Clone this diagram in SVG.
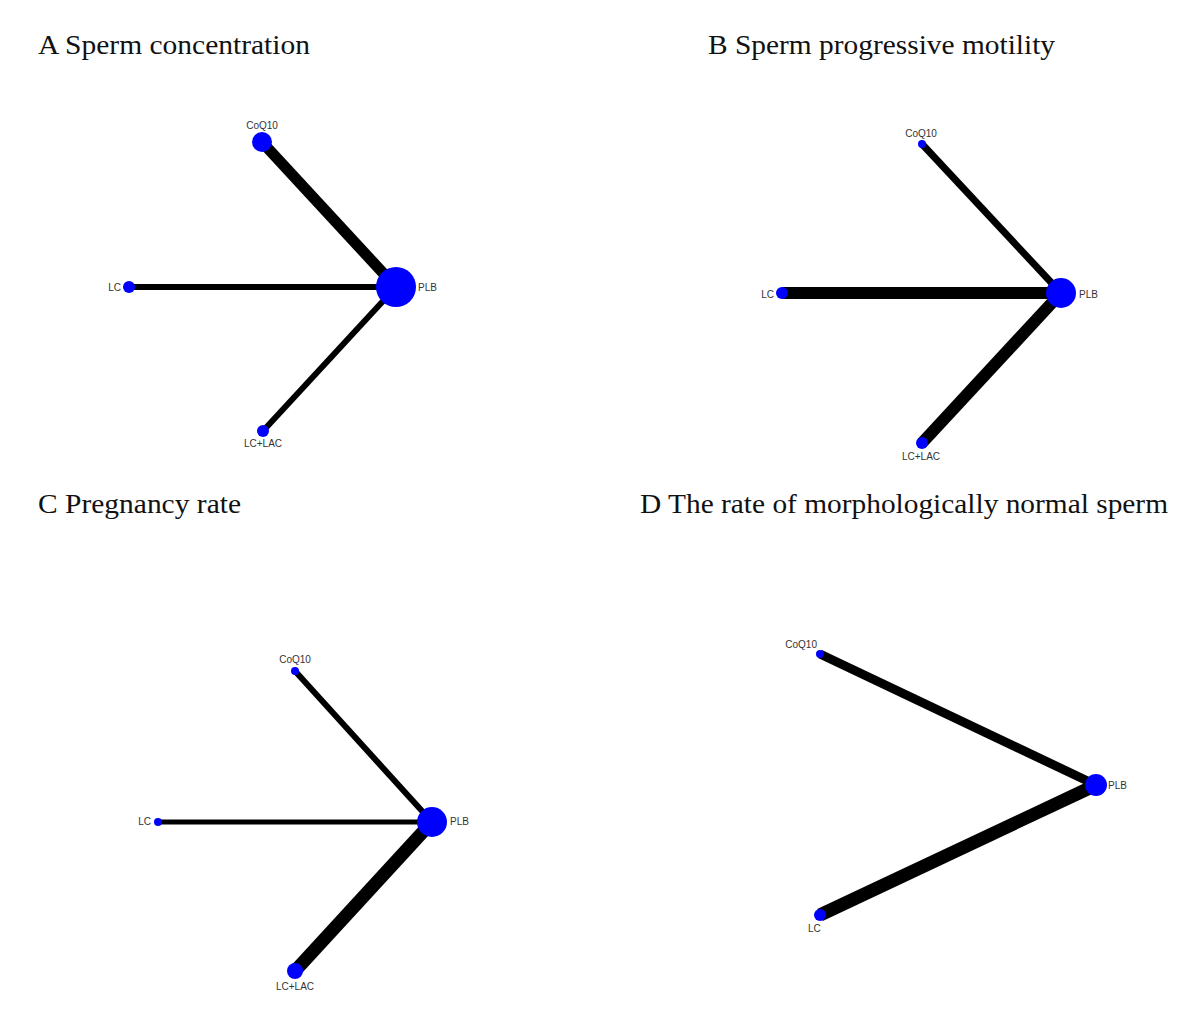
<svg xmlns="http://www.w3.org/2000/svg" width="1200" height="1021" viewBox="0 0 1200 1021">
<style>
.title{font-family:"Liberation Serif","Times New Roman",serif;font-size:27px;fill:#111}
.lbl{font-family:"Liberation Sans",Arial,sans-serif;font-size:10px;fill:#333}
.e{stroke:#000;stroke-linecap:butt}
.n{fill:#0000ff}
</style>
<rect width="1200" height="1021" fill="#fff"/>
<g id="titles">
<text class="title" x="38" y="54" textLength="272" lengthAdjust="spacingAndGlyphs">A Sperm concentration</text>
<text class="title" x="708" y="54" textLength="347" lengthAdjust="spacingAndGlyphs">B Sperm progressive motility</text>
<text class="title" x="38" y="513" textLength="203" lengthAdjust="spacingAndGlyphs">C Pregnancy rate</text>
<text class="title" x="640" y="513" textLength="528" lengthAdjust="spacingAndGlyphs">D The rate of morphologically normal sperm</text>
</g>
<g id="connectors">
<line class="e" x1="262" y1="142" x2="396" y2="287" stroke-width="11"/>
<line class="e" x1="129" y1="287" x2="396" y2="287" stroke-width="6"/>
<line class="e" x1="263" y1="431" x2="396" y2="287" stroke-width="6"/>
<line class="e" x1="922" y1="144" x2="1061" y2="293" stroke-width="7"/>
<line class="e" x1="782" y1="293" x2="1061" y2="293" stroke-width="12"/>
<line class="e" x1="922" y1="443" x2="1061" y2="293" stroke-width="12"/>
<line class="e" x1="295" y1="671" x2="432" y2="822" stroke-width="6"/>
<line class="e" x1="158" y1="822" x2="432" y2="822" stroke-width="5"/>
<line class="e" x1="295" y1="971" x2="432" y2="822" stroke-width="13"/>
<line class="e" x1="820" y1="654" x2="1096" y2="785" stroke-width="9"/>
<line class="e" x1="820" y1="915" x2="1096" y2="785" stroke-width="13"/>
</g>
<g id="A-CoQ10"><circle class="n" cx="262" cy="142" r="10"/><text class="lbl" x="262" y="129" text-anchor="middle">CoQ10</text></g>
<g id="A-LC"><circle class="n" cx="129" cy="287" r="6"/><text class="lbl" x="121" y="291" text-anchor="end">LC</text></g>
<g id="A-PLB"><circle class="n" cx="396" cy="287" r="20"/><text class="lbl" x="418" y="291">PLB</text></g>
<g id="A-LCLAC"><circle class="n" cx="263" cy="431" r="6"/><text class="lbl" x="263" y="447" text-anchor="middle">LC+LAC</text></g>
<g id="B-CoQ10"><circle class="n" cx="922" cy="144" r="4"/><text class="lbl" x="921" y="137" text-anchor="middle">CoQ10</text></g>
<g id="B-LC"><circle class="n" cx="782" cy="293" r="6"/><text class="lbl" x="774" y="298" text-anchor="end">LC</text></g>
<g id="B-PLB"><circle class="n" cx="1061" cy="293" r="15"/><text class="lbl" x="1079" y="298">PLB</text></g>
<g id="B-LCLAC"><circle class="n" cx="922" cy="443" r="6"/><text class="lbl" x="921" y="460" text-anchor="middle">LC+LAC</text></g>
<g id="C-CoQ10"><circle class="n" cx="295" cy="671" r="4"/><text class="lbl" x="295" y="663" text-anchor="middle">CoQ10</text></g>
<g id="C-LC"><circle class="n" cx="158" cy="822" r="4"/><text class="lbl" x="151" y="825" text-anchor="end">LC</text></g>
<g id="C-PLB"><circle class="n" cx="432" cy="822" r="15"/><text class="lbl" x="450" y="825">PLB</text></g>
<g id="C-LCLAC"><circle class="n" cx="295" cy="971" r="8"/><text class="lbl" x="295" y="990" text-anchor="middle">LC+LAC</text></g>
<g id="D-CoQ10"><circle class="n" cx="820" cy="654" r="4"/><text class="lbl" x="817" y="648" text-anchor="end">CoQ10</text></g>
<g id="D-PLB"><circle class="n" cx="1096" cy="785" r="11"/><text class="lbl" x="1108" y="789">PLB</text></g>
<g id="D-LC"><circle class="n" cx="820" cy="915" r="6"/><text class="lbl" x="808" y="932">LC</text></g>
</svg>
